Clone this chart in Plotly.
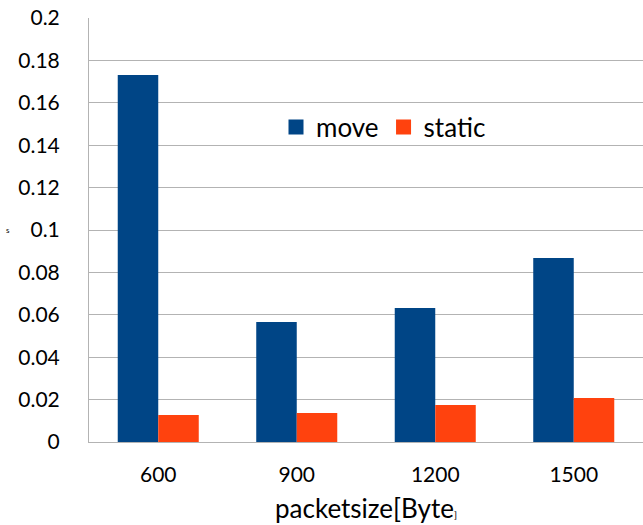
import plotly.graph_objects as go

categories = ["600", "900", "1200", "1500"]
move = [0.1731, 0.0566, 0.0632, 0.0868]
static = [0.0127, 0.0137, 0.0175, 0.0208]
series_names = ["move", "static"]
series_colors = ["#004586", "#ff420e"]
y_ticks = [0, 0.02, 0.04, 0.06, 0.08, 0.1, 0.12, 0.14, 0.16, 0.18, 0.2]
y_tick_labels = ["0", "0.02", "0.04", "0.06", "0.08", "0.1", "0.12", "0.14", "0.16", "0.18", "0.2"]

font_family = "Lato, Open Sans, sans-serif"

fig = go.Figure()
for name, vals, col in zip(series_names, [move, static], series_colors):
    fig.add_trace(go.Bar(name=name, x=categories, y=vals, marker_color=col,
                         marker_line_width=0, showlegend=False, legendgroup=name))
    # legend entry with a larger square swatch
    fig.add_trace(go.Scatter(name=name, x=[None], y=[None], mode="markers",
                             marker=dict(symbol="square", size=15, color=col),
                             legendgroup=name, showlegend=True))

fig.update_layout(
    width=643, height=525,
    margin=dict(l=89, r=0, t=18, b=83),
    paper_bgcolor="white", plot_bgcolor="white",
    barmode="group", bargap=0.415, bargroupgap=0,
    font=dict(family=font_family, color="#000000", size=21),
    legend=dict(orientation="h", x=(276 - 89) / 554, y=(442 - 127) / 424,
                xanchor="left", yanchor="middle",
                bgcolor="rgba(0,0,0,0)", font=dict(size=26), itemwidth=30,
                traceorder="normal"),
    xaxis=dict(type="category", showline=True, linecolor="#b3b3b3", linewidth=1,
               showgrid=False, ticks="", ticklabelstandoff=14,
               tickfont=dict(size=21),
               title=dict(text="packetsize[Byte<span style='font-size:10px'>]</span>",
                          font=dict(size=26), standoff=14)),
    yaxis=dict(range=[0, 0.2], tickvals=y_ticks, ticktext=y_tick_labels,
               showline=True, linecolor="#b3b3b3", linewidth=1,
               showgrid=True, gridcolor="#b3b3b3", gridwidth=1,
               ticks="", ticklabelstandoff=24, tickfont=dict(size=21), zeroline=False),
    annotations=[dict(text="s", x=(8 - 89) / 554, y=(442 - 230) / 424, xref="paper",
                      yref="paper", showarrow=False, xanchor="center", yanchor="middle",
                      font=dict(size=8))],
)

fig.write_html("out.html", config={"displayModeBar": False},
               post_script="document.body.style.margin='0';")
